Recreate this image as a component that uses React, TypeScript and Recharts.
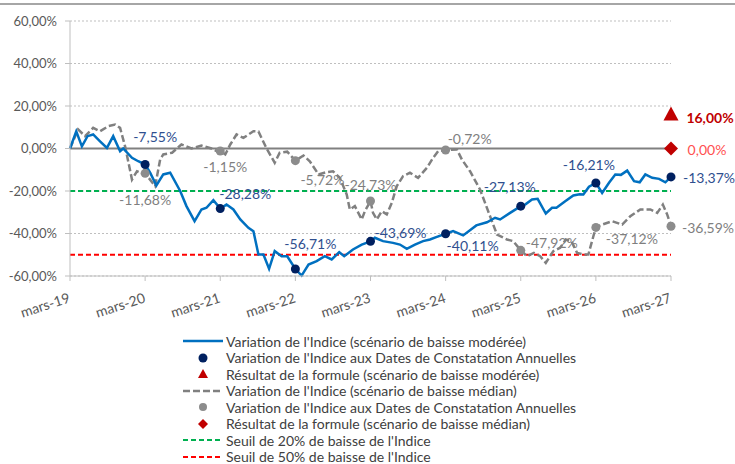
import React from 'react';
import { ComposedChart, Line, Scatter, XAxis, YAxis, CartesianGrid, ReferenceLine, Legend } from 'recharts';

// time in months since mars-19
const moderateT = [0, 1, 1.9, 2.8, 3.7, 4.8, 5.9, 6.9, 8, 8.5, 9.9, 10.9, 12, 12.8, 13.8, 14.9, 16, 17.6, 18.6, 19.9, 21, 21.8, 22.9, 24, 25, 26.1, 27.2, 28.5, 29.3, 30.1, 30.9, 31.8, 32.7, 33.8, 34.7, 36, 37, 38.1, 39.4, 40.7, 41.8, 43, 43.8, 45.2, 46.6, 48, 48.7, 50, 51.6, 52.7, 53.8, 55.1, 56.4, 57.5, 58.6, 60, 61.2, 62.8, 64.9, 66.6, 67.9, 68.7, 70.3, 72, 72.7, 73.8, 74.7, 76, 77, 77.7, 79.1, 80.4, 81.4, 82, 82.9, 84, 85, 86.1, 87.1, 88, 89, 90.1, 91, 91.9, 93, 94.1, 95.1, 96];
const moderateV = [0, 8.1, 1, 5.8, 6.6, 3.4, 0.3, 5.8, -1.3, 0, -4.4, -6, -7.55, -11.4, -17.4, -12.2, -11.4, -20, -27.1, -34.2, -28.7, -27.9, -24.3, -28.28, -26.4, -28.7, -33.4, -37.3, -38.9, -49.9, -49.9, -56.6, -48.3, -50.7, -50.7, -56.71, -59.8, -54.6, -53, -50.7, -52.2, -48.8, -50.7, -47.5, -45.2, -43.69, -42, -43.6, -44.4, -45.2, -47.2, -45.2, -43.6, -42.8, -41.6, -40.11, -38.9, -40.9, -36.2, -34.7, -32.6, -33.4, -30.3, -27.13, -26.4, -24, -23.7, -30.6, -27.9, -27.9, -24.8, -22.1, -21.5, -21.6, -18, -16.21, -20.9, -16.1, -12.2, -12.4, -10.4, -15.4, -15.9, -12.2, -13.8, -14.3, -15.9, -13.37];

const medianT = [0, 1.3, 2.4, 3.7, 4.8, 6.1, 7.2, 8, 8.8, 9.9, 10.7, 11.5, 12, 13.6, 14.4, 14.9, 16.3, 17.8, 19.4, 21, 22.6, 23.7, 24, 24.8, 25.6, 26.6, 27.7, 29.3, 30.1, 31.4, 32.7, 33.5, 34.7, 36, 37.3, 38.3, 39.7, 41, 42, 43.1, 44.2, 44.7, 45.5, 46.6, 47.1, 48, 48.4, 49, 49.8, 50.6, 51.4, 52.2, 53.2, 54.3, 55.6, 57, 58, 58.8, 60, 61.8, 62.6, 63.9, 65.5, 67.1, 68.2, 69.8, 70.8, 72, 73, 74.1, 75.1, 76, 77.2, 78.3, 79.2, 80.1, 81, 82, 82.8, 83.6, 84, 85, 86.6, 88.2, 89.5, 91.1, 92.7, 93.8, 94.7, 95.4, 96];
const medianV = [0, 9, 5.8, 9.7, 8.1, 10.5, 11.3, 9.7, 1, -14.6, -10.7, -11.8, -11.68, -17.7, -5.2, -2.8, -2, 1.9, 0, 1.4, 0, -1.7, -1.15, -2.8, 1.9, 6.6, 5, 8.1, 8, 0, -6.7, -2, -1.5, -5.72, -3.3, -6, -12.2, -11.1, -10.7, -13.8, -21.6, -28.7, -27.1, -33.4, -29.5, -24.73, -30.3, -33.4, -29.5, -31, -25.6, -17.7, -13, -11.4, -13.8, -9.1, -4.4, -1.3, -0.72, -0.5, -5.2, -10.7, -19.3, -31.9, -40.5, -42.8, -43.6, -47.92, -50.7, -49.1, -50.7, -53.8, -48.3, -46.7, -42.8, -43.6, -49.1, -49.9, -49.9, -41.3, -37.12, -35.8, -34.2, -35.8, -31.9, -28.7, -28.7, -30.3, -26.4, -31.1, -36.59];

const annualT = [12, 24, 36, 48, 60, 72, 84, 96];
const moderateAnnual = [-7.55, -28.28, -56.71, -43.69, -40.11, -27.13, -16.21, -13.37];
const medianAnnual = [-11.68, -1.15, -5.72, -24.73, -0.72, -47.92, -37.12, -36.59];

const formulaT = [96];
const moderateFormula = [16];
const medianFormula = [0];

const threshold20 = -20;
const threshold50 = -50;

const yTicks = [-60, -40, -20, 0, 20, 40, 60];
const xTicks = [0, 12, 24, 36, 48, 60, 72, 84, 96];
const xTickLabels = ['mars-19', 'mars-20', 'mars-21', 'mars-22', 'mars-23', 'mars-24', 'mars-25', 'mars-26', 'mars-27'];

const legendLabels = [
  "Variation de l'Indice (scénario de baisse modérée)",
  "Variation de l'Indice aux Dates de Constatation Annuelles",
  'Résultat de la formule (scénario de baisse modérée)',
  "Variation de l'Indice (scénario de baisse médian)",
  "Variation de l'Indice aux Dates de Constatation Annuelles",
  'Résultat de la formule (scénario de baisse médian)',
  "Seuil de 20% de baisse de l'Indice",
  "Seuil de 50% de baisse de l'Indice",
];

// label placement (style): offsets of the value labels from their markers
const moderateLabelOffsets = [[10, -28], [25, -15], [15, -26], [30, -9], [27, 12], [-11, -20], [-7, -18], [38, 1]];
const medianLabelOffsets = [[0, 26], [5, 16], [27, 19], [0, -17], [24, -12], [31, -8], [36, 11], [37, 1]];

const FONT = 'Lato, "Liberation Sans", sans-serif';
const BLUE = '#0070c0';
const NAVY = '#002060';
const GRAY = '#808080';
const GRAYDOT = '#8c8c8c';
const DARKRED = '#c00000';

const fmt = (v: number) => v.toFixed(2).replace('.', ',') + '%';

const moderateData = moderateT.map((t, i) => ({ t, v: moderateV[i] }));
const medianData = medianT.map((t, i) => ({ t, v: medianV[i] }));
const moderateAnnualData = annualT.map((t, i) => ({ t, v: moderateAnnual[i], dx: moderateLabelOffsets[i][0], dy: moderateLabelOffsets[i][1] }));
const medianAnnualData = annualT.map((t, i) => ({ t, v: medianAnnual[i], dx: medianLabelOffsets[i][0], dy: medianLabelOffsets[i][1] }));
const moderateFormulaData = formulaT.map((t, i) => ({ t, v: moderateFormula[i], dx: 39, dy: 3 }));
const medianFormulaData = formulaT.map((t, i) => ({ t, v: medianFormula[i], dx: 36, dy: 1 }));

const makeDotShape = (fill: string, r: number, textColor: string) => (props: any) => {
  const { cx, cy, payload } = props;
  if (cx == null || cy == null) return <g />;
  return (
    <g>
      <circle cx={cx} cy={cy} r={r} fill={fill} />
      <text x={cx + payload.dx} y={cy + payload.dy} textAnchor="middle" dominantBaseline="central" fill={textColor} fontSize={14} fontFamily={FONT}>
        {fmt(payload.v)}
      </text>
    </g>
  );
};

const triangleShape = (props: any) => {
  const { cx, cy, payload } = props;
  if (cx == null || cy == null) return <g />;
  return (
    <g>
      <polygon points={`${cx},${cy - 8} ${cx + 7.5},${cy + 6} ${cx - 7.5},${cy + 6}`} fill={DARKRED} />
      <text x={cx + payload.dx} y={cy + payload.dy} textAnchor="middle" dominantBaseline="central" fill={DARKRED} fontSize={14} fontWeight="bold" fontFamily={FONT}>
        {fmt(payload.v)}
      </text>
    </g>
  );
};

const diamondShape = (props: any) => {
  const { cx, cy, payload } = props;
  if (cx == null || cy == null) return <g />;
  return (
    <g>
      <polygon points={`${cx},${cy - 7} ${cx + 7},${cy} ${cx},${cy + 7} ${cx - 7},${cy}`} fill={DARKRED} />
      <text x={cx + payload.dx} y={cy + payload.dy} textAnchor="middle" dominantBaseline="central" fill="#ff5050" fontSize={14} fontFamily={FONT}>
        {fmt(payload.v)}
      </text>
    </g>
  );
};

const XTick = (props: any) => {
  const { x, y, payload } = props;
  const idx = xTicks.indexOf(payload.value);
  const ax = x + 1;
  const ay = y + 19;
  return (
    <text x={ax} y={ay} textAnchor="end" transform={`rotate(-18, ${ax}, ${ay})`} fill="#595959" fontSize={14} fontFamily={FONT}>
      {xTickLabels[idx]}
    </text>
  );
};

const legendIcon = (i: number) => {
  switch (i) {
    case 0:
      return <line x1={0} x2={40} y1={8} y2={8} stroke={BLUE} strokeWidth={2.5} />;
    case 1:
      return <circle cx={20} cy={8} r={4.5} fill={NAVY} />;
    case 2:
      return <polygon points="20,3 25,12 15,12" fill={DARKRED} />;
    case 3:
      return <line x1={0} x2={40} y1={8} y2={8} stroke={GRAY} strokeWidth={2.5} strokeDasharray="7 3" />;
    case 4:
      return <circle cx={20} cy={8} r={4} fill={GRAYDOT} />;
    case 5:
      return <polygon points="20,3 25,8 20,13 15,8" fill={DARKRED} />;
    case 6:
      return <line x1={0} x2={40} y1={8} y2={8} stroke="#00b050" strokeWidth={2} strokeDasharray="5 3" />;
    default:
      return <line x1={0} x2={40} y1={8} y2={8} stroke="#ff0000" strokeWidth={2} strokeDasharray="5 3" />;
  }
};

const renderLegend = () => (
  <div style={{ fontFamily: FONT, fontSize: 14, color: '#404040' }}>
    {legendLabels.map((label, i) => (
      <div key={i} style={{ display: 'flex', alignItems: 'center', height: 16.5, whiteSpace: 'nowrap' }}>
        <svg width={43} height={16} style={{ flex: 'none' }}>{legendIcon(i)}</svg>
        <span>{label}</span>
      </div>
    ))}
  </div>
);

export default function App() {
  return (
    <div style={{ position: 'absolute', left: 0, top: 0, width: 735, height: 464, background: '#ffffff', overflow: 'hidden' }}>
      <div style={{ position: 'absolute', left: 0, top: 3, width: 735, height: 0, borderTop: '2px solid #a6a6a6' }} />
      <ComposedChart width={735} height={464} margin={{ top: 21, right: 64, bottom: 158, left: 0 }}>
        <CartesianGrid vertical={false} stroke="#bfbfbf" strokeDasharray="2 2" />
        <XAxis
          dataKey="t"
          type="number"
          domain={[0, 96]}
          ticks={xTicks}
          interval={0}
          height={30}
          tickSize={5}
          tickMargin={2}
          axisLine={{ stroke: '#bfbfbf' }}
          tickLine={{ stroke: '#bfbfbf' }}
          tick={<XTick />}
        />
        <YAxis
          type="number"
          domain={[-60, 60]}
          ticks={yTicks}
          interval={0}
          width={70}
          tickSize={5}
          tickMargin={8}
          axisLine={{ stroke: '#bfbfbf' }}
          tickLine={{ stroke: '#bfbfbf' }}
          tick={{ fill: '#595959', fontSize: 13, fontFamily: FONT }}
          tickFormatter={(v: number) => fmt(v)}
        />
        <ReferenceLine y={0} stroke={GRAY} strokeWidth={2} />
        <ReferenceLine y={threshold20} stroke="#00b050" strokeWidth={2} strokeDasharray="5 3" />
        <ReferenceLine y={threshold50} stroke="#ff0000" strokeWidth={2} strokeDasharray="5 3" />
        <Line data={medianData} dataKey="v" type="linear" stroke={GRAY} strokeWidth={2.5} strokeDasharray="7 3" dot={false} activeDot={false} isAnimationActive={false} />
        <Line data={moderateData} dataKey="v" type="linear" stroke={BLUE} strokeWidth={2.5} dot={false} activeDot={false} isAnimationActive={false} />
        <Scatter data={medianAnnualData} dataKey="v" shape={makeDotShape(GRAYDOT, 4.5, '#7f7f7f')} isAnimationActive={false} />
        <Scatter data={moderateAnnualData} dataKey="v" shape={makeDotShape(NAVY, 4.5, '#2f4f8f')} isAnimationActive={false} />
        <Scatter data={moderateFormulaData} dataKey="v" shape={triangleShape} isAnimationActive={false} />
        <Scatter data={medianFormulaData} dataKey="v" shape={diamondShape} isAnimationActive={false} />
        <Legend
          layout="horizontal"
          verticalAlign="middle"
          align="center"
          content={renderLegend}
          wrapperStyle={{ left: 183, top: 333, width: 440, height: 135 }}
        />
      </ComposedChart>
    </div>
  );
}
